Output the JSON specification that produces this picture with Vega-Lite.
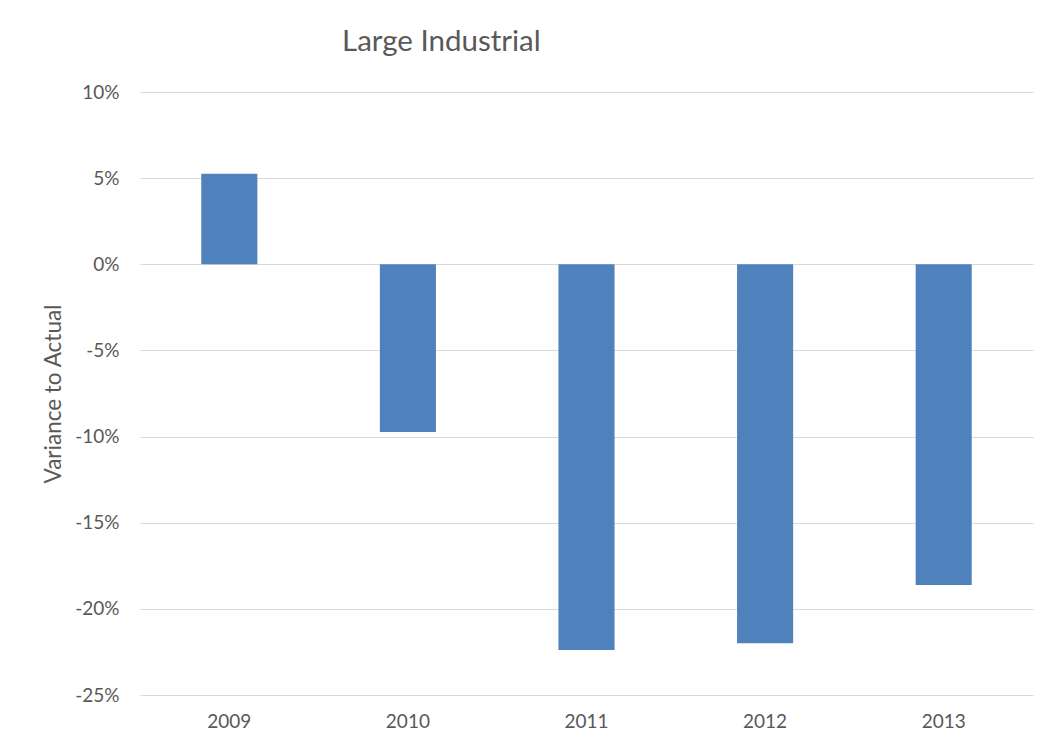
{
  "$schema": "https://vega.github.io/schema/vega-lite/v6.json",
  "autosize": {"type": "none"},
  "width": 893,
  "height": 603,
  "padding": {"left": 140, "top": 92, "right": 14, "bottom": 54},
  "background": "white",
  "title": {
    "text": "Large Industrial",
    "anchor": "start",
    "frame": "group",
    "dx": 202,
    "offset": 3,
    "baseline": "alphabetic",
    "font": "Lato",
    "fontSize": 29.5,
    "fontWeight": "normal",
    "color": "#595959"
  },
  "data": {
    "values": [
      {"year": "2009", "variance": 0.0526},
      {"year": "2010", "variance": -0.0974},
      {"year": "2011", "variance": -0.2239},
      {"year": "2012", "variance": -0.2199},
      {"year": "2013", "variance": -0.1862}
    ]
  },
  "mark": {"type": "bar", "color": "#4F81BD"},
  "encoding": {
    "x": {
      "field": "year",
      "type": "ordinal",
      "scale": {"paddingInner": 0.686, "paddingOuter": 0.343},
      "axis": {
        "title": null,
        "labelAngle": 0,
        "ticks": false,
        "domain": false,
        "grid": false,
        "labelPadding": 17,
        "labelFont": "Lato",
        "labelFontSize": 19,
        "labelColor": "#595959"
      }
    },
    "y": {
      "field": "variance",
      "type": "quantitative",
      "scale": {"domain": [-0.25, 0.1], "nice": false, "zero": false},
      "axis": {
        "title": "Variance to Actual",
        "values": [-0.25, -0.2, -0.15, -0.1, -0.05, 0, 0.05, 0.1],
        "format": ".0%",
        "labelExpr": "replace(datum.label, '\u2212', '-')",
        "ticks": false,
        "domain": false,
        "grid": true,
        "gridColor": "#D9D9D9",
        "gridWidth": 1,
        "labelPadding": 21,
        "labelFont": "Lato",
        "labelFontSize": 19,
        "labelColor": "#595959",
        "titleFont": "Lato",
        "titleFontSize": 22.5,
        "titleFontWeight": "normal",
        "titleColor": "#595959",
        "titlePadding": 9
      }
    }
  },
  "config": {
    "view": {"stroke": null}
  }
}
